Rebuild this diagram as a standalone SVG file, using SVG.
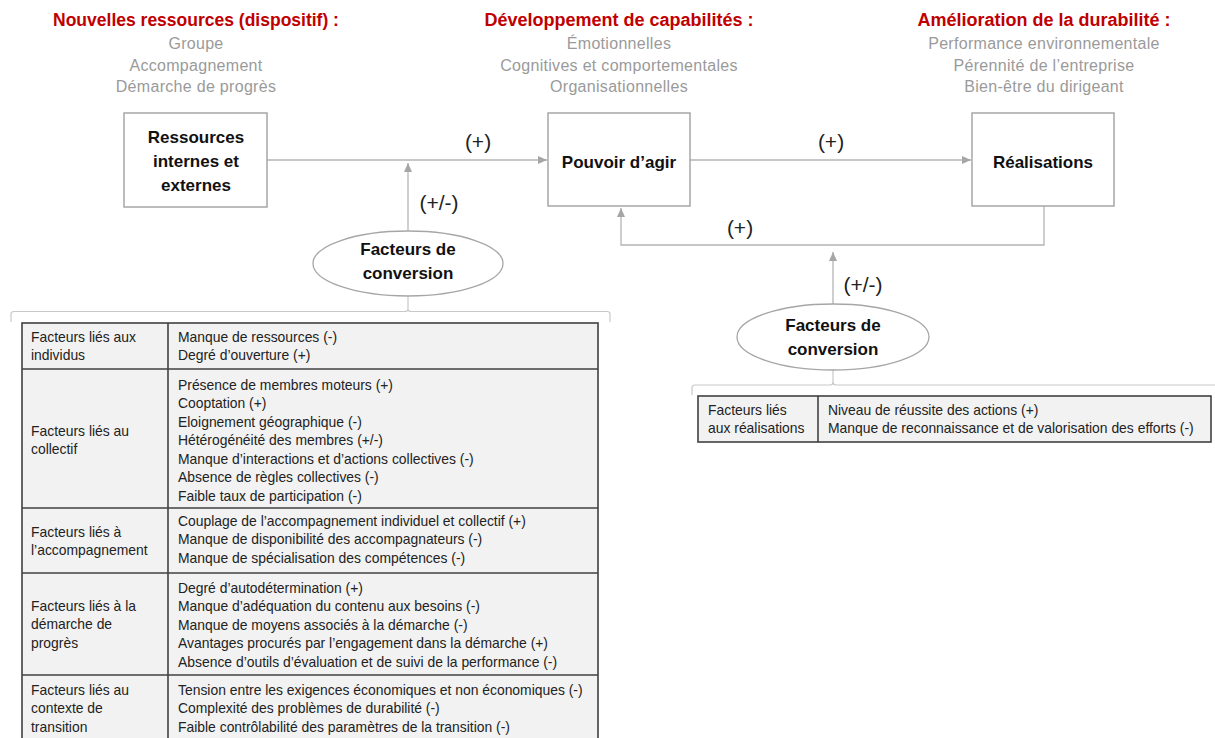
<svg xmlns="http://www.w3.org/2000/svg" width="1215" height="738" viewBox="0 0 1215 738">
<defs>
<style>
text{font-family:"Liberation Sans",Arial,sans-serif}
.h{font-size:18px;font-weight:bold;fill:#c00000;text-anchor:middle}
.g{font-size:16px;fill:#9a9a9a;text-anchor:middle;letter-spacing:0.3px}
.n{font-size:17px;font-weight:bold;fill:#111;text-anchor:middle}
.lab{font-size:21px;fill:#222;text-anchor:middle}
.t{font-size:13.9px;fill:#222}
.box{fill:#fff;stroke:#a6a6a6;stroke-width:1.5}
.ell{fill:#fff;stroke:#a6a6a6;stroke-width:1.3}
.con{fill:none;stroke:#b4b4b4;stroke-width:1.3}
.br{fill:none;stroke:#c8c8c8;stroke-width:1.2}
.tb{fill:#f2f2f2;stroke:#404040;stroke-width:1.6}
.tl{stroke:#404040;stroke-width:1.6}
</style>
<marker id="arr" markerWidth="10" markerHeight="8" refX="9" refY="4" orient="auto" markerUnits="userSpaceOnUse">
<path d="M0,0 L9,4 L0,8 Z" fill="#a6a6a6"/>
</marker>
</defs>
<rect width="1215" height="738" fill="#fff"/>

<g id="headings">
<text class="h" x="196" y="26" style="font-size:17.5px">Nouvelles ressources (dispositif) :</text>
<text class="g" x="196" y="49">Groupe</text>
<text class="g" x="196" y="71">Accompagnement</text>
<text class="g" x="196" y="92">Démarche de progrès</text>
<text class="h" x="619" y="26">Développement de capabilités :</text>
<text class="g" x="619" y="49">Émotionnelles</text>
<text class="g" x="619" y="71">Cognitives et comportementales</text>
<text class="g" x="619" y="92">Organisationnelles</text>
<text class="h" x="1044" y="26">Amélioration de la durabilité :</text>
<text class="g" x="1044" y="49">Performance environnementale</text>
<text class="g" x="1044" y="71">Pérennité de l’entreprise</text>
<text class="g" x="1044" y="92">Bien-être du dirigeant</text>
</g>

<g id="connectors">
<line class="con" x1="267" y1="160" x2="547" y2="160" marker-end="url(#arr)"/>
<line class="con" x1="690" y1="160" x2="971" y2="160" marker-end="url(#arr)"/>
<line class="con" x1="408" y1="231" x2="408" y2="163" marker-end="url(#arr)"/>
<polyline class="con" points="1044,206 1044,245 621,245 621,208" marker-end="url(#arr)"/>
<line class="con" x1="833" y1="304" x2="833" y2="252" marker-end="url(#arr)"/>
<text class="lab" x="478" y="149">(+)</text>
<text class="lab" x="831" y="149">(+)</text>
<text class="lab" x="439" y="210">(+/-)</text>
<text class="lab" x="740" y="235">(+)</text>
<text class="lab" x="863" y="292">(+/-)</text>
<path class="br" d="M11,322 L11,314 Q11,311.5 14,311.5 L405,311.5 Q408,311.5 408,309 L408,296 M408,309 Q408,311.5 411,311.5 L607,311.5 Q610,311.5 610,314 L610,322"/>
<path class="br" d="M692,395 L692,388 Q692,385 695,385 L830,385 Q833,385 833,382 L833,370 M833,382 Q833,385 836,385 L1215,385"/>
</g>

<g id="node-ressources">
<rect class="box" x="124" y="113" width="143" height="94"/>
<text class="n" x="196" y="143">Ressources</text>
<text class="n" x="196" y="167">internes et</text>
<text class="n" x="196" y="191">externes</text>
</g>
<g id="node-pouvoir">
<rect class="box" x="548" y="113" width="142" height="93"/>
<text class="n" x="619" y="168">Pouvoir d’agir</text>
</g>
<g id="node-realisations">
<rect class="box" x="972" y="113" width="142" height="93"/>
<text class="n" x="1043" y="168">Réalisations</text>
</g>
<g id="node-facteurs1">
<ellipse class="ell" cx="408" cy="263.5" rx="95" ry="32.5"/>
<text class="n" x="408" y="255">Facteurs de</text>
<text class="n" x="408" y="279">conversion</text>
</g>
<g id="node-facteurs2">
<ellipse class="ell" cx="833" cy="337" rx="96" ry="33"/>
<text class="n" x="833" y="331">Facteurs de</text>
<text class="n" x="833" y="355">conversion</text>
</g>

<g id="table1">
<rect class="tb" x="22" y="323" width="576" height="430"/>
<line class="tl" x1="168" y1="323" x2="168" y2="745"/>
<line class="tl" x1="22" y1="369" x2="598" y2="369"/>
<line class="tl" x1="22" y1="508" x2="598" y2="508"/>
<line class="tl" x1="22" y1="573" x2="598" y2="573"/>
<line class="tl" x1="22" y1="675" x2="598" y2="675"/>
<text class="t" x="31" y="341.5">Facteurs liés aux</text>
<text class="t" x="31" y="360">individus</text>
<text class="t" x="178" y="341.5">Manque de ressources (-)</text>
<text class="t" x="178" y="360">Degré d’ouverture (+)</text>
<text class="t" x="31" y="435.5">Facteurs liés au</text>
<text class="t" x="31" y="454">collectif</text>
<text class="t" x="178" y="389.5">Présence de membres moteurs (+)</text>
<text class="t" x="178" y="408">Cooptation (+)</text>
<text class="t" x="178" y="426.5">Eloignement géographique (-)</text>
<text class="t" x="178" y="445">Hétérogénéité des membres (+/-)</text>
<text class="t" x="178" y="463.5">Manque d’interactions et d’actions collectives (-)</text>
<text class="t" x="178" y="482">Absence de règles collectives (-)</text>
<text class="t" x="178" y="500.5">Faible taux de participation (-)</text>
<text class="t" x="31" y="536.5">Facteurs liés à</text>
<text class="t" x="31" y="555">l’accompagnement</text>
<text class="t" x="178" y="525.5">Couplage de l’accompagnement individuel et collectif (+)</text>
<text class="t" x="178" y="544">Manque de disponibilité des accompagnateurs (-)</text>
<text class="t" x="178" y="562.5">Manque de spécialisation des compétences (-)</text>
<text class="t" x="31" y="610.5">Facteurs liés à la</text>
<text class="t" x="31" y="629">démarche de</text>
<text class="t" x="31" y="647.5">progrès</text>
<text class="t" x="178" y="592.5">Degré d’autodétermination (+)</text>
<text class="t" x="178" y="611">Manque d’adéquation du contenu aux besoins (-)</text>
<text class="t" x="178" y="629.5">Manque de moyens associés à la démarche (-)</text>
<text class="t" x="178" y="648">Avantages procurés par l’engagement dans la démarche (+)</text>
<text class="t" x="178" y="666.5">Absence d’outils d’évaluation et de suivi de la performance (-)</text>
<text class="t" x="31" y="694.5">Facteurs liés au</text>
<text class="t" x="31" y="713">contexte de</text>
<text class="t" x="31" y="731.5">transition</text>
<text class="t" x="178" y="694.5">Tension entre les exigences économiques et non économiques (-)</text>
<text class="t" x="178" y="713">Complexité des problèmes de durabilité (-)</text>
<text class="t" x="178" y="731.5">Faible contrôlabilité des paramètres de la transition (-)</text>
</g>

<g id="table2">
<rect class="tb" x="698" y="396" width="513" height="46"/>
<line class="tl" x1="818" y1="396" x2="818" y2="442"/>
<text class="t" x="708" y="414.5">Facteurs liés</text>
<text class="t" x="708" y="433">aux réalisations</text>
<text class="t" x="828" y="414.5">Niveau de réussite des actions (+)</text>
<text class="t" x="828" y="433">Manque de reconnaissance et de valorisation des efforts (-)</text>
</g>
</svg>
